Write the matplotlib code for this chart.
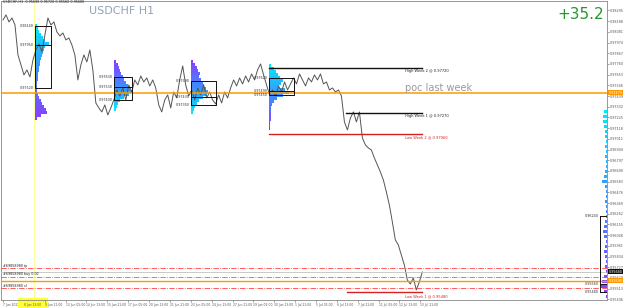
import matplotlib
matplotlib.use("Agg")
import matplotlib.pyplot as plt
from matplotlib.colors import LinearSegmentedColormap
import numpy as np

# ---------------------------------------------------------------------------
# Data read off the chart (H1 closes, sampled every 3 bars of screen space)
# ---------------------------------------------------------------------------
closes = [
    0.9820, 0.9825, 0.9818, 0.9822, 0.9815, 0.9785, 0.9775, 0.9765, 0.9770, 0.9763,
    0.9780, 0.9790, 0.9796, 0.9788, 0.9805, 0.9822, 0.9815, 0.9818, 0.9808, 0.9804,
    0.9807, 0.9800, 0.9802, 0.9795, 0.9785, 0.9760, 0.9775, 0.9785, 0.9778, 0.9790,
    0.9770, 0.9737, 0.9732, 0.9728, 0.9735, 0.9725, 0.9732, 0.9740, 0.9750, 0.9744,
    0.9752, 0.9740, 0.9755, 0.9748, 0.9760, 0.9755, 0.9764, 0.9758, 0.9762, 0.9754,
    0.9760, 0.9752, 0.9735, 0.9728, 0.9740, 0.9745, 0.9732, 0.9748, 0.9742, 0.9760,
    0.9774, 0.9755, 0.9744, 0.9750, 0.9740, 0.9752, 0.9745, 0.9755, 0.9742, 0.9748,
    0.9740, 0.9736, 0.9745, 0.9737, 0.9748, 0.9742, 0.9752, 0.9760, 0.9754, 0.9762,
    0.9756, 0.9764, 0.9758, 0.9766, 0.9760, 0.9770, 0.9776, 0.9765, 0.9755, 0.9745,
    0.9750, 0.9744, 0.9754, 0.9748, 0.9758, 0.9750, 0.9756, 0.9762, 0.9756, 0.9766,
    0.9760, 0.9754, 0.9762, 0.9758, 0.9765, 0.9760, 0.9766, 0.9756, 0.9758, 0.9750,
    0.9752, 0.9748, 0.9750, 0.9744, 0.9718, 0.9710, 0.9722, 0.9728, 0.9718, 0.9728,
    0.9702, 0.9695, 0.9692, 0.9690, 0.9682, 0.9675, 0.9668, 0.9660, 0.9648, 0.9635,
    0.9618, 0.9600, 0.9595, 0.9585, 0.9575, 0.9560, 0.9556, 0.9562, 0.9550, 0.9558,
    0.9568,
]

time_labels = [
    "7 Jun 2022", "8 Jun 13:00", "9 Jun 21:00", "13 Jun 05:00", "14 Jun 13:00",
    "15 Jun 21:00", "17 Jun 05:00", "20 Jun 13:00", "21 Jun 21:00", "23 Jun 05:00",
    "24 Jun 13:00", "27 Jun 21:00", "29 Jun 05:00", "30 Jun 13:00", "1 Jul 21:00",
    "5 Jul 05:00", "6 Jul 13:00", "7 Jul 21:00", "11 Jul 05:00", "12 Jul 13:00",
    "13 Jul 21:00",
]

poc_last_week = 0.9747
high_week2, high_week1 = 0.9772, 0.9727
low_week2, low_week1 = 0.9706, 0.9548

order_tp, order_open, order_sl = 0.9572, 0.9563, 0.9552
bid_price, ask_price = 0.9568, 0.9559
profit_pips = "+35.2"

# volume profiles: level prices and level volumes
vp1_levels = [0.9814, 0.9811, 0.9808, 0.9805, 0.9802, 0.9799, 0.9796, 0.9793, 0.9790,
              0.9787, 0.9784, 0.9781, 0.9778, 0.9775, 0.9772, 0.9769, 0.9766, 0.9763,
              0.9760, 0.9757, 0.9754, 0.9751, 0.9748, 0.9745, 0.9742, 0.9739, 0.9736,
              0.9733, 0.9730, 0.9727, 0.9724, 0.9721]
vp1_vol = [2, 3, 4, 6, 8, 10, 14, 10, 9, 8, 7, 6, 5, 5, 4, 4, 3, 3, 3, 2, 2, 2, 2,
           3, 4, 6, 7, 9, 11, 12, 6, 2]

vp2_levels = [0.9778, 0.9775, 0.9772, 0.9769, 0.9766, 0.9763, 0.9760, 0.9757, 0.9754,
              0.9751, 0.9748, 0.9745, 0.9742, 0.9739, 0.9736, 0.9733, 0.9730]
vp2_vol = [2, 4, 5, 6, 7, 9, 10, 12, 14, 16, 18, 15, 10, 6, 4, 3, 2]

vp3_levels = [0.9778, 0.9775, 0.9772, 0.9769, 0.9766, 0.9763, 0.9760, 0.9757, 0.9754,
              0.9751, 0.9748, 0.9745, 0.9742, 0.9739, 0.9736, 0.9733, 0.9730, 0.9727]
vp3_vol = [2, 4, 6, 7, 9, 8, 10, 12, 13, 15, 17, 16, 12, 8, 6, 4, 3, 2]

vp4_levels = [0.9774, 0.9771, 0.9768, 0.9765, 0.9762, 0.9759, 0.9756, 0.9753, 0.9750,
              0.9747, 0.9744, 0.9741, 0.9738, 0.9735, 0.9732, 0.9729, 0.9726, 0.9723,
              0.9720, 0.9717, 0.9714, 0.9711]
vp4_vol = [2, 5, 7, 9, 11, 14, 12, 10, 16, 20, 14, 8, 5, 3, 2, 2, 2, 2, 2, 1, 1, 1]

vp5_levels = [0.9728, 0.9723, 0.9718, 0.9713, 0.9708, 0.9703, 0.9698, 0.9693, 0.9688,
              0.9683, 0.9678, 0.9673, 0.9668, 0.9663, 0.9658, 0.9653, 0.9648, 0.9643,
              0.9638, 0.9633, 0.9628, 0.9623, 0.9618, 0.9613, 0.9608, 0.9603, 0.9598,
              0.9593, 0.9588, 0.9583, 0.9578, 0.9573, 0.9568, 0.9563, 0.9558, 0.9553,
              0.9548, 0.9543]
vp5_vol = [3, 4, 4, 3, 2, 2, 1, 2, 1, 2, 1, 1, 2, 3, 5, 2, 1, 1, 2, 1, 1, 1, 2, 3,
           4, 3, 1, 2, 3, 2, 1, 2, 1, 3, 5, 6, 3, 1]

# boxes drawn around the value areas: (left, right, top, poc, bottom)
va_boxes = [
    (34, 50, 0.9814, 0.9795, 0.9752),
    (113, 131, 0.9763, 0.9753, 0.9740),
    (190, 215, 0.9759, 0.9743, 0.9735),
    (268, 293, 0.9762, 0.9749, 0.9745),
]
right_box = (600, 0.9624, 0.9556, 0.9548)

# ---------------------------------------------------------------------------
fig = plt.figure(figsize=(6.25, 3.08), dpi=100)
ax = fig.add_axes([0.0016, 0.026, 0.9696, 0.971])
XMAX = 607
ax.set_xlim(0, XMAX)
ax.set_ylim(0.9540, 0.9839)

cmap = LinearSegmentedColormap.from_list("vp", ["#00e8ff", "#3f8cff", "#8a3dff"])


def draw_profile(left, levels, vol, reverse=False, from_right=False):
    n = len(levels)
    t = np.linspace(0, 1, n)
    if reverse:
        t = t[::-1]
    cols = cmap(t)
    lefts = [left - v for v in vol] if from_right else [left] * n
    ax.barh(levels, vol, left=lefts, height=0.00030, color=cols, lw=0, zorder=2)


draw_profile(34, vp1_levels, vp1_vol)
draw_profile(113, vp2_levels, vp2_vol, reverse=True)
draw_profile(190, vp3_levels, vp3_vol, reverse=True)
draw_profile(268, vp4_levels, vp4_vol)
draw_profile(XMAX, vp5_levels, vp5_vol, from_right=True)

# pale yellow session line
ax.axvline(33, color="#ffff99", lw=0.8, zorder=1)

# price line
xs = 2 + 3 * np.arange(len(closes))
ax.plot(xs, closes, color="#555555", lw=0.7, zorder=3)

# value area boxes
for l, r, top, poc, bot in va_boxes:
    ax.plot([l, r, r, l, l], [top, top, bot, bot, top], color="#111111", lw=0.7, zorder=4)
    ax.plot([l, r], [poc, poc], color="#111111", lw=0.7, zorder=4)
    for p in (top, poc, bot):
        ax.text(l - 1, p, f"{p:.5f}", fontsize=2.4, ha="right", va="center",
                color="#333333", zorder=5)

bx, btop, bmid, bbot = right_box
ax.plot([bx, bx], [btop, bbot], color="#111111", lw=0.7, zorder=4)
for p in (btop, bmid, bbot):
    ax.plot([bx, XMAX], [p, p], color="#111111", lw=0.7, zorder=4)
    ax.text(bx - 1, p, f"{p:.5f}", fontsize=2.4, ha="right", va="center", color="#333333")

# weekly levels
ax.plot([268, 422], [high_week2] * 2, color="#111111", lw=1.0, zorder=4)
ax.plot([346, 422], [high_week1] * 2, color="#111111", lw=1.0, zorder=4)
ax.plot([268, 422], [low_week2] * 2, color="#d42020", lw=1.0, zorder=4)
ax.plot([347, 422], [low_week1] * 2, color="#d42020", lw=1.0, zorder=4)
ax.text(405, high_week2 - 0.0004, f"High Week 2 @ {high_week2:.5f}", fontsize=2.6, color="#222222")
ax.text(405, high_week1 - 0.0004, f"High Week 1 @ {high_week1:.5f}", fontsize=2.6, color="#222222")
ax.text(405, low_week2 - 0.0004, f"Low Week 2 @ {low_week2:.5f}", fontsize=2.6, color="#d42020")
ax.text(405, low_week1 - 0.0005, f"Low Week 1 @ {low_week1:.5f}", fontsize=2.6, color="#d42020")

# poc of last week
ax.axhline(poc_last_week, color="#ff9900", lw=1.1, zorder=3)
ax.text(405, poc_last_week + 0.0002, "poc last week", fontsize=7, color="#9a9a9a")

# order lines
ax.axhline(order_tp, color="#ff4040", lw=0.6, ls="-.", zorder=3)
ax.axhline(bid_price, color="#c0c0c0", lw=0.6, zorder=3)
ax.axhline(order_open, color="#33bb33", lw=0.6, ls="-.", zorder=3)
ax.axhline(ask_price, color="#ff9900", lw=1.0, zorder=3)
ax.axhline(order_sl, color="#ff4040", lw=0.6, ls="-.", zorder=3)
ax.text(2, order_tp + 0.0001, "#69858980 tp", fontsize=2.4, color="#222222")
ax.text(2, order_open + 0.0002, "#69858980 buy 0.02", fontsize=2.4, color="#222222")
ax.text(2, order_sl + 0.0001, "#69858980 sl", fontsize=2.4, color="#222222")

# titles
ax.text(2, 0.98375, "USDCHF,H1  0.95690 0.95720 0.95560 0.95680", fontsize=2.4,
        color="#222222", va="center")
ax.text(88, 0.9829, "USDCHF H1", fontsize=8, color="#93a3b8", va="center")
ax.text(604, 0.98255, profit_pips, fontsize=11, color="#22992a", ha="right", va="center")

# axes styling
ax.yaxis.tick_right()
yt = [0.98295 - 0.00107 * k for k in range(28)]
ax.set_yticks(yt)
ax.set_yticklabels([f"{v:.5f}" for v in yt])
ax.tick_params(axis="y", labelsize=2.4, colors="#555555", length=1.5, width=0.4, pad=0.8)

xt = 2 + 20.9 * np.arange(len(time_labels))
ax.set_xticks(xt)
ax.set_xticklabels(time_labels, ha="left")
ax.tick_params(axis="x", labelsize=2.2, colors="#555555", length=1.5, width=0.4, pad=1)
ax.get_xticklabels()[1].set_backgroundcolor("#ffff33")

for s in ax.spines.values():
    s.set_linewidth(0.6)
    s.set_color("#888888")

# highlighted price tags on the right scale
for p, fc, tc in [(poc_last_week, "#ff9900", "#ffffff"), (bid_price, "#111111", "#ffffff"),
                  (ask_price, "#ff9900", "#ffffff")]:
    ax.text(XMAX + 2, p, f"{p:.5f}", fontsize=2.4, color=tc, va="center", ha="left",
            clip_on=False, bbox=dict(boxstyle="square,pad=0.15", fc=fc, ec="none"))

fig.savefig("out.png", dpi=100, facecolor="white")
